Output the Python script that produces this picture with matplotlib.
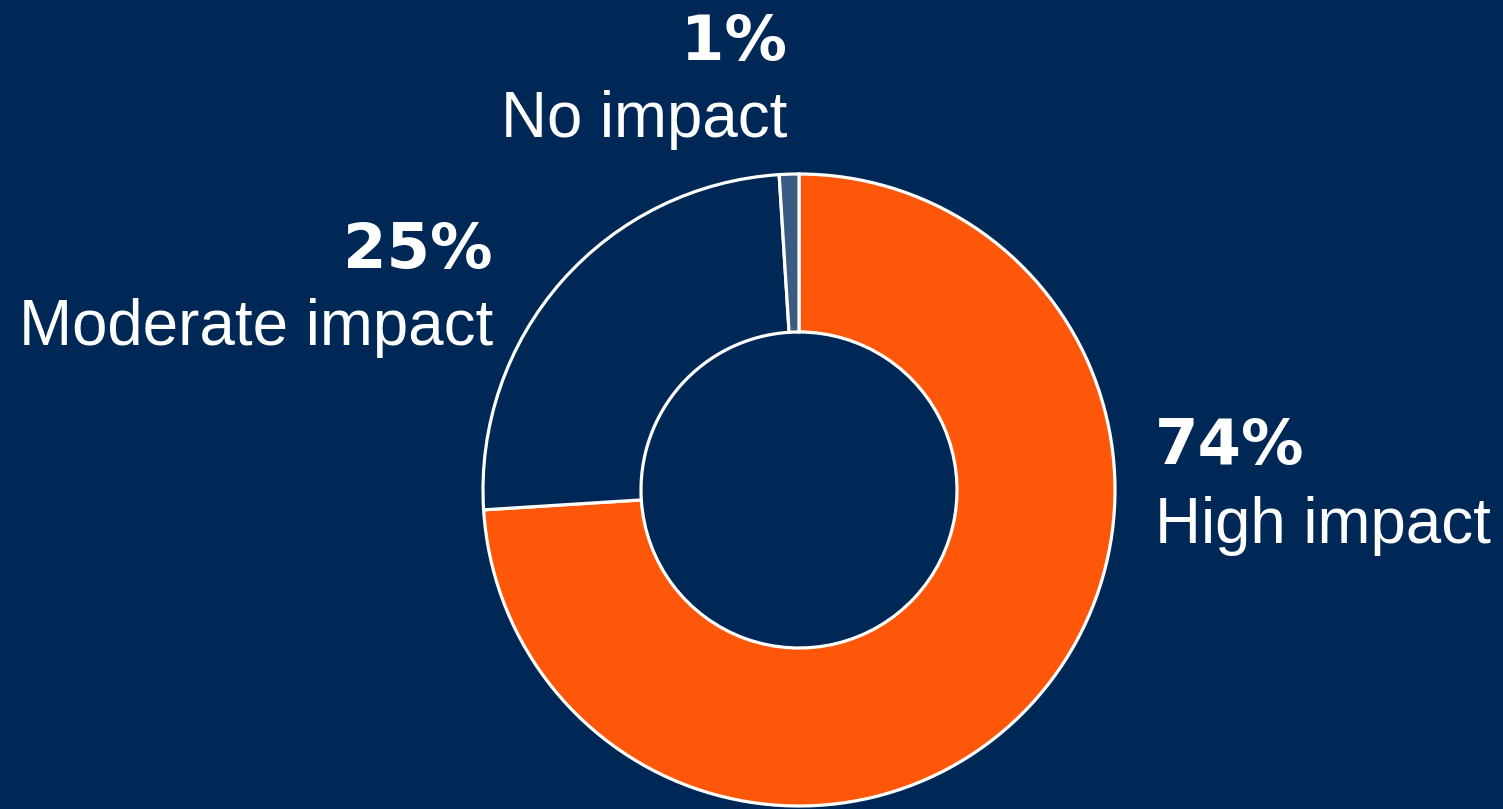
import matplotlib
matplotlib.use("Agg")
import matplotlib.pyplot as plt

categories = ["High impact", "Moderate impact", "No impact"]
values = [74, 25, 1]
pct_labels = ["74%", "25%", "1%"]

BG = "#002856"
colors = ["#FF570A", "#002856", "#3A5B82"]

plt.rcParams['font.family'] = ['Liberation Sans', 'DejaVu Sans']

W, H = 1503, 809
fig = plt.figure(figsize=(W / 100, H / 100), dpi=100, facecolor=BG)
ax = fig.add_axes([0, 0, 1, 1])
ax.set_facecolor(BG)

cx, cy, r = 799, H - 490, 316
ax.pie(values, colors=colors, startangle=90, counterclock=False,
       center=(cx, cy), radius=r, frame=True,
       wedgeprops=dict(width=r * 0.5, edgecolor='white', linewidth=2.3))
ax.set_xlim(0, W)
ax.set_ylim(0, H)
ax.set_aspect('equal')
ax.axis('off')

# label positions (pixel coords, y from top): (x, baseline_pct, baseline_name, ha)
label_pos = {
    "High impact": (1155, 464, 543, 'left'),
    "Moderate impact": (493, 268, 345, 'right'),
    "No impact": (787, 60, 137, 'right'),
}
for cat, pct in zip(categories, pct_labels):
    x, yb1, yb2, ha = label_pos[cat]
    ax.text(x, H - yb1, pct, ha=ha, va='baseline', color='white',
            fontsize=45, fontweight='bold', family='DejaVu Sans')
    ax.text(x, H - yb2, cat, ha=ha, va='baseline', color='white',
            fontsize=45.8)

fig.savefig("out.png", dpi=100, facecolor=BG)
